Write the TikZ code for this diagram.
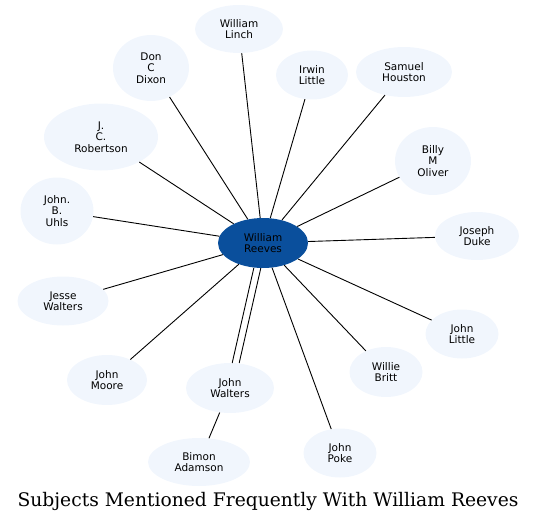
\documentclass[tikz,border=0pt]{standalone}
\usepackage{fontspec}
\setmainfont{DejaVu Sans}
\newfontfamily\titlefont{DejaVu Serif}
\definecolor{leafblue}{RGB}{241,246,253}
\definecolor{hubblue}{RGB}{10,79,156}
\tikzset{
  subject/.style={ellipse, fill=leafblue, inner sep=0pt, align=center,
    font=\fontsize{10.5}{11.5}\selectfont},
  hub/.style={subject, fill=hubblue},
  link/.style={black, line width=0.9pt}
}
\usetikzlibrary{shapes.geometric}
\begin{document}
\begin{tikzpicture}[x=1pt,y=-1pt]

\useasboundingbox (0,0) rectangle (537,524);

% Centre
\node[hub, minimum width=90, minimum height=50] (reeves) at (263,243) {William\\Reeves};

% Subjects
\node[subject, minimum width=88, minimum height=48] (linch) at (239,29) {William\\Linch};
\node[subject, minimum width=76, minimum height=66] (dixon) at (151,68) {Don\\C\\Dixon};
\node[subject, minimum width=72, minimum height=49] (irwin) at (312,75) {Irwin\\Little};
\node[subject, minimum width=96, minimum height=50] (houston) at (404,72) {Samuel\\Houston};
\node[subject, minimum width=114, minimum height=67] (robertson) at (101,137) {J.\\C.\\Robertson};
\node[subject, minimum width=76, minimum height=68] (oliver) at (433,161) {Billy\\M\\Oliver};
\node[subject, minimum width=73, minimum height=67] (uhls) at (57,211) {John.\\B.\\Uhls};
\node[subject, minimum width=84, minimum height=48] (duke) at (477,236) {Joseph\\Duke};
\node[subject, minimum width=91, minimum height=49] (jesse) at (63,301) {Jesse\\Walters};
\node[subject, minimum width=73, minimum height=49] (jlittle) at (462,334) {John\\Little};
\node[subject, minimum width=73, minimum height=50] (britt) at (386,372) {Willie\\Britt};
\node[subject, minimum width=80, minimum height=50] (moore) at (107,380) {John\\Moore};
\node[subject, minimum width=88, minimum height=50] (walters) at (230,388) {John\\Walters};
\node[subject, minimum width=102, minimum height=48] (adamson) at (199,462) {Bimon\\Adamson};
\node[subject, minimum width=73, minimum height=49] (poke) at (340,453) {John\\Poke};

% Links
\foreach \s in {linch,dixon,irwin,houston,robertson,oliver,uhls,duke,jesse,jlittle,britt,moore,poke}
  \draw[link] (reeves) -- (\s);
\draw[link, transform canvas={xshift=-3.5pt}] (reeves) -- (walters);
\draw[link, transform canvas={xshift=3.5pt}] (reeves) -- (walters);
\draw[link] (walters) -- (adamson);

% Title
\node[font=\titlefont\fontsize{18.7}{21}\selectfont] (title) at (268,501) {Subjects Mentioned Frequently With William Reeves};

\end{tikzpicture}
\end{document}
